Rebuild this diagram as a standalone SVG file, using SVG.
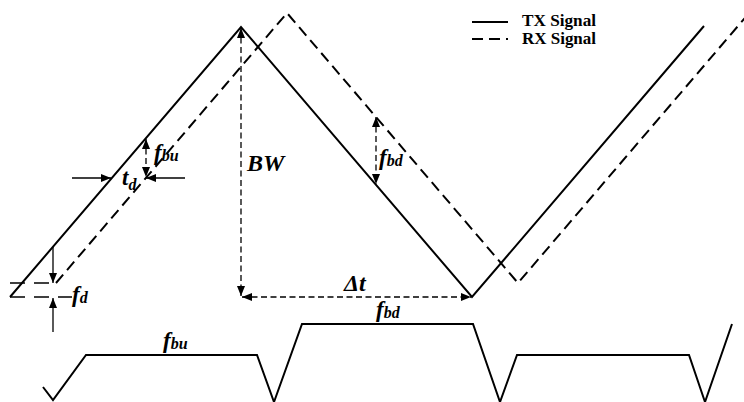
<svg xmlns="http://www.w3.org/2000/svg" width="744" height="402" viewBox="0 0 744 402">
<style>
.sig{fill:none;stroke:#000;stroke-width:2;stroke-linejoin:miter}
.rx{stroke-dasharray:11 6}
.dim{fill:none;stroke:#000;stroke-width:1.3}
.dd{stroke-dasharray:6 3.5}
.lab{font-family:"Liberation Serif","Times New Roman",serif;font-weight:bold;font-style:italic;fill:#000}
.leg{font-family:"Liberation Serif","Times New Roman",serif;font-weight:bold;font-size:16px;fill:#000}
</style>
<defs>
<marker id="ah" viewBox="0 0 10 8" refX="10" refY="4" markerWidth="10" markerHeight="8" markerUnits="userSpaceOnUse" orient="auto-start-reverse">
<path d="M0,0 L10,4 L0,8 Z" fill="#000"/>
</marker>
</defs>
<rect width="744" height="402" fill="#fff"/>
<g id="tx-signal">
<polyline class="sig" points="10,297 241,27 472,297 704,26"/>
</g>
<g id="rx-signal">
<polyline class="sig rx" points="56,283 287,13 518,283 750,12"/>
</g>
<g id="beat">
<polyline class="sig" points="43,387 53,400 86,355 257,355 274,402 302,324 473,324 500,402 517,355 689,355 705,402 732,324"/>
</g>
<g id="connectors">
<line class="dim" x1="72" y1="178" x2="111" y2="178" marker-end="url(#ah)"/>
<line class="dim" x1="185" y1="178" x2="146" y2="178" marker-end="url(#ah)"/>
<line class="dim dd" x1="146" y1="139" x2="146" y2="177" marker-start="url(#ah)" marker-end="url(#ah)"/>
<line class="dim dd" x1="241" y1="28" x2="241" y2="296" marker-start="url(#ah)" marker-end="url(#ah)"/>
<line class="dim dd" x1="242" y1="297" x2="471" y2="297" marker-start="url(#ah)" marker-end="url(#ah)"/>
<line class="dim dd" x1="376" y1="117" x2="376" y2="184" marker-start="url(#ah)" marker-end="url(#ah)"/>
<line class="dim" x1="53" y1="247" x2="53" y2="283" marker-end="url(#ah)"/>
<line class="dim" x1="53" y1="332" x2="53" y2="298" marker-end="url(#ah)"/>
<line class="dim" x1="10" y1="283" x2="52" y2="283" stroke-dasharray="15 9" stroke-width="1.6"/>
<line class="dim" x1="10" y1="297" x2="72" y2="297" stroke-dasharray="15 9" stroke-width="1.3"/>
</g>
<g id="labels">
<text class="lab" x="122" y="185" font-size="23">t<tspan font-size="16" dy="5">d</tspan></text>
<text class="lab" x="154" y="160" font-size="23">f<tspan font-size="16" dy="1">bu</tspan></text>
<text class="lab" x="247" y="171" font-size="24">BW</text>
<text class="lab" x="379" y="165" font-size="23">f<tspan font-size="16" dy="1">bd</tspan></text>
<text class="lab" x="344" y="291" font-size="24">Δt</text>
<text class="lab" x="72" y="302" font-size="23">f<tspan font-size="16" dy="1">d</tspan></text>
<text class="lab" x="163" y="348" font-size="23">f<tspan font-size="16" dy="1">bu</tspan></text>
<text class="lab" x="376" y="317" font-size="23">f<tspan font-size="16" dy="1">bd</tspan></text>
</g>
<g id="legend">
<line class="sig" x1="472" y1="22" x2="508" y2="22"/>
<line class="sig" x1="472" y1="39" x2="508" y2="39" stroke-dasharray="11 6"/>
<text class="leg" x="522" y="26" textLength="74" lengthAdjust="spacingAndGlyphs">TX Signal</text>
<text class="leg" x="522" y="44" textLength="74" lengthAdjust="spacingAndGlyphs">RX Signal</text>
</g>
</svg>
